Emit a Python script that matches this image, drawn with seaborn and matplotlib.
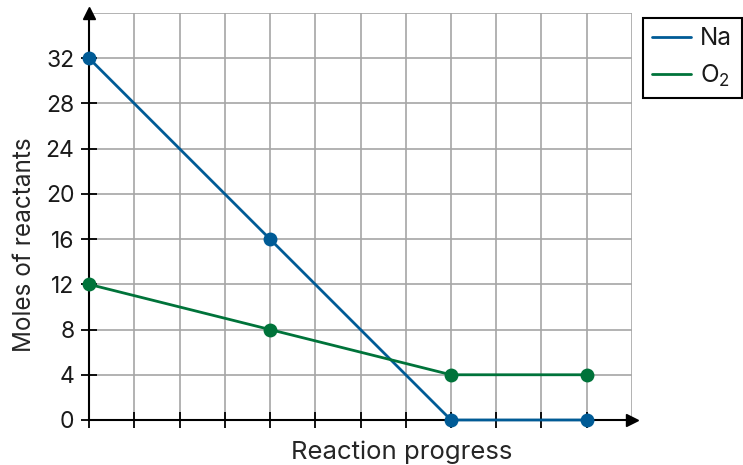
import matplotlib
matplotlib.use("Agg")
import matplotlib.pyplot as plt
from matplotlib.lines import Line2D
import numpy as np
import pandas as pd
import seaborn as sns

progress = [0, 4, 8, 11]
na_moles = [32, 16, 0, 0]
o2_moles = [12, 8, 4, 4]
series_names = ["Na", "O$_2$"]
series_colors = ["#005b96", "#00733a"]
y_ticks = [0, 4, 8, 12, 16, 20, 24, 28, 32, 36]

df = pd.DataFrame({
    "progress": progress * 2,
    "moles": na_moles + o2_moles,
    "reactant": [series_names[0]] * len(progress) + [series_names[1]] * len(progress),
})

sns.set_style("white")
plt.rcParams["font.family"] = ["Inter", "DejaVu Sans"]
plt.rcParams["mathtext.fontset"] = "custom"
plt.rcParams["mathtext.rm"] = "Inter"
plt.rcParams["mathtext.it"] = "Inter"
plt.rcParams["text.color"] = "#1a1a1a"

fig = plt.figure(figsize=(7.43, 4.65), dpi=100)
ax = fig.add_axes([0.1198, 0.0968, 0.7308, 0.8752])

sns.lineplot(
    data=df, x="progress", y="moles", hue="reactant",
    palette=dict(zip(series_names, series_colors)),
    marker="o", markersize=10, markeredgewidth=0, linewidth=2,
    legend=False, ax=ax, clip_on=False, zorder=5,
)

ax.set_xlim(0, 12)
ax.set_ylim(0, 36)
ax.set_xticks(range(0, 13))
ax.set_yticks(y_ticks)
ax.set_xticklabels([])
ax.set_yticklabels([str(v) for v in y_ticks[:-1]] + [""])
ax.grid(True, color="#a6a6a6", linewidth=1.2)
ax.set_axisbelow(True)

for s in ["top", "right"]:
    ax.spines[s].set_visible(False)
for s in ["left", "bottom"]:
    ax.spines[s].set_color("black")
    ax.spines[s].set_linewidth(1.5)
    ax.spines[s].set_zorder(4)

ax.tick_params(axis="both", bottom=True, left=True, direction="inout",
               length=11, width=1.3, color="black", labelcolor="#1a1a1a",
               labelsize=16.5, pad=5)
ax.xaxis.get_major_ticks()[-1].tick1line.set_visible(False)
ax.yaxis.get_major_ticks()[-1].tick1line.set_visible(False)

# axis arrows
ax.plot(1, 0, ">k", markersize=8, transform=ax.get_yaxis_transform(), clip_on=False, zorder=6)
ax.plot(0, 1, "^k", markersize=8, transform=ax.get_xaxis_transform(), clip_on=False, zorder=6)

ax.set_xlabel("Reaction progress", fontsize=18.5)
ax.xaxis.set_label_coords(0.575, -0.05, transform=ax.transAxes)
ax.xaxis.label.set_va("top")
ax.set_ylabel("Moles of reactants", fontsize=17.5)
ax.yaxis.set_label_coords(-0.098, 0.43)

handles = [Line2D([0], [0], color=c, linewidth=2) for c in series_colors]
leg = fig.legend(handles, series_names, loc="upper left",
                 bbox_to_anchor=(0.865, 0.962), fontsize=17.5,
                 frameon=True, fancybox=False, framealpha=1,
                 edgecolor="black", handlelength=1.6, handletextpad=0.35,
                 borderpad=0.4, labelspacing=0.5, borderaxespad=0)
leg.get_frame().set_linewidth(1.5)

fig.savefig("out.png", dpi=100)
